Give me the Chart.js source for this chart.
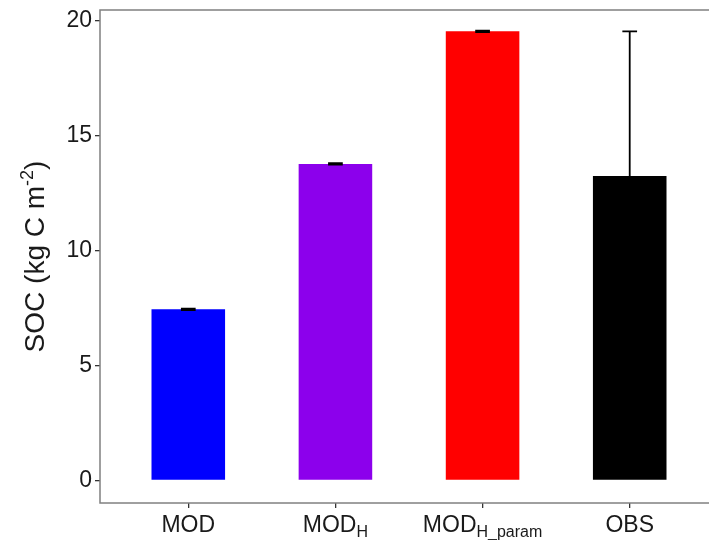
<!DOCTYPE html>
<html><head><meta charset="utf-8">
<script src="https://cdn.jsdelivr.net/npm/chart.js@4"></script>
<style>html,body{margin:0;padding:0;overflow:hidden;background:#fff}#wrap{width:730px;height:540px}</style>
</head><body><div id="wrap"><canvas id="c" width="730" height="540"></canvas></div>
<script>
const categories = ['MOD', 'MOD_H', 'MOD_H_param', 'OBS'];
const labelMain = ['MOD', 'MOD', 'MOD', 'OBS'];
const labelSub = ['', 'H', 'H_param', ''];
const socMean = [7.45, 13.78, 19.55, 13.25];
const socSD = [0.03, 0.03, 0.03, 6.3];
const barColors = ['#0000FF', '#8C00EC', '#FF0000', '#000000'];
const yTicks = [0, 5, 10, 15, 20];
const yTitleMain = 'SOC (kg C m';
const yTitleSup = '-2';
const yTitleEnd = ')';

const FONT = '"Liberation Sans", Arial, sans-serif';

const errorBars = {
  id: 'errorBars',
  afterDatasetsDraw(chart) {
    const ctx = chart.ctx, xs = chart.scales.x, ys = chart.scales.y;
    const capHalf = Math.abs(xs.getPixelForValue(1) - xs.getPixelForValue(0)) * 0.05;
    ctx.save();
    ctx.strokeStyle = '#000';
    ctx.lineWidth = 1.8;
    socMean.forEach((m, i) => {
      const x = xs.getPixelForValue(i);
      const yh = ys.getPixelForValue(m + socSD[i]);
      const yl = ys.getPixelForValue(m - socSD[i]);
      ctx.beginPath();
      ctx.moveTo(x, yl); ctx.lineTo(x, yh);
      ctx.moveTo(x - capHalf, yh); ctx.lineTo(x + capHalf, yh);
      ctx.moveTo(x - capHalf, yl); ctx.lineTo(x + capHalf, yl);
      ctx.stroke();
    });
    ctx.restore();
  }
};

const decorations = {
  id: 'decorations',
  afterDraw(chart) {
    const ctx = chart.ctx, a = chart.chartArea, xs = chart.scales.x;
    ctx.save();
    ctx.strokeStyle = '#808080';
    ctx.lineWidth = 1.5;
    ctx.strokeRect(a.left, a.top, a.right - a.left, a.bottom - a.top);
    ctx.fillStyle = '#1a1a1a';
    ctx.textBaseline = 'alphabetic';
    ctx.textAlign = 'left';
    const mainF = '23px ' + FONT, subF = '16px ' + FONT;
    categories.forEach((c, i) => {
      ctx.font = mainF;
      const w1 = ctx.measureText(labelMain[i]).width;
      ctx.font = subF;
      const w2 = labelSub[i] ? ctx.measureText(labelSub[i]).width : 0;
      const x0 = xs.getPixelForValue(i) - (w1 + w2) / 2;
      const base = 532;
      ctx.font = mainF;
      ctx.fillText(labelMain[i], x0, base);
      if (labelSub[i]) {
        ctx.font = subF;
        ctx.fillText(labelSub[i], x0 + w1, base + 5);
      }
    });
    const tMain = '28px ' + FONT, tSup = '18px ' + FONT;
    ctx.font = tMain;
    const t1 = ctx.measureText(yTitleMain).width;
    const t3 = ctx.measureText(yTitleEnd).width;
    ctx.font = tSup;
    const t2 = ctx.measureText(yTitleSup).width;
    const total = t1 + t2 + t3;
    ctx.translate(44, (a.top + a.bottom) / 2);
    ctx.rotate(-Math.PI / 2);
    let x = -total / 2;
    ctx.font = tMain; ctx.fillText(yTitleMain, x, 0); x += t1;
    ctx.font = tSup; ctx.fillText(yTitleSup, x, -11); x += t2;
    ctx.font = tMain; ctx.fillText(yTitleEnd, x, 0);
    ctx.restore();
  }
};

new Chart(document.getElementById('c'), {
  type: 'bar',
  data: {
    datasets: [{
      data: socMean.map((v, i) => ({ x: i, y: v })),
      backgroundColor: barColors,
      borderWidth: 0,
      barPercentage: 0.5,
      categoryPercentage: 1.0
    }]
  },
  options: {
    responsive: false,
    devicePixelRatio: 1,
    animation: false,
    layout: { padding: { top: 10, right: 12, bottom: 0, left: 0 } },
    plugins: { legend: { display: false }, tooltip: { enabled: false } },
    scales: {
      x: {
        type: 'linear', min: -0.6, max: 3.6, offset: false,
        afterBuildTicks: s => { s.ticks = categories.map((c, i) => ({ value: i })); },
        afterFit: s => { s.height = 37; s.paddingLeft = 0; s.paddingRight = 0; },
        ticks: { callback: () => '', font: { size: 2 } },
        grid: { offset: false, drawOnChartArea: false, drawTicks: true, tickLength: 5, color: '#333', lineWidth: 1.3 },
        border: { display: false }
      },
      y: {
        min: -0.98, max: 20.48,
        afterBuildTicks: s => { s.ticks = yTicks.map(v => ({ value: v })); },
        afterFit: s => { s.width = 100; s.paddingTop = 0; s.paddingBottom = 0; },
        ticks: { color: '#1a1a1a', font: { size: 23, family: FONT }, padding: 3 },
        grid: { drawOnChartArea: false, drawTicks: true, tickLength: 5, color: '#333', lineWidth: 1.3 },
        border: { display: false }
      }
    }
  },
  plugins: [errorBars, decorations]
});
</script></body></html>
